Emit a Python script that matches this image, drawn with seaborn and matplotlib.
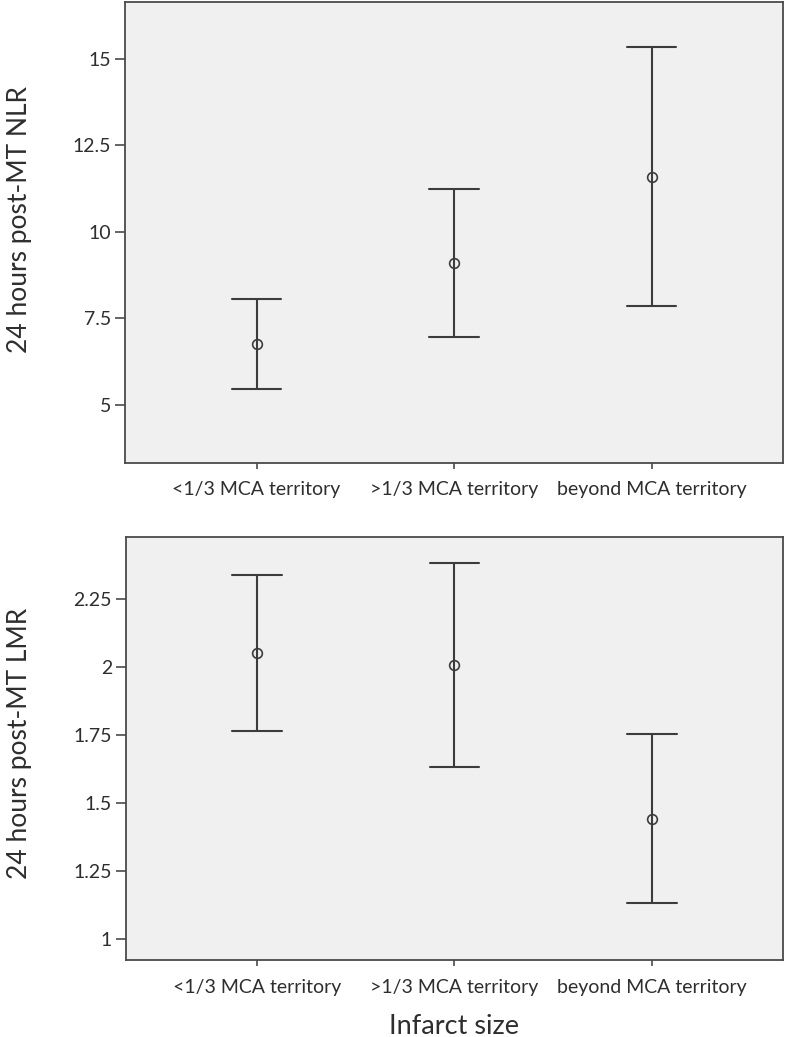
import numpy as np
import pandas as pd
import matplotlib
matplotlib.use("Agg")
import matplotlib.pyplot as plt
import seaborn as sns
from matplotlib.ticker import FormatStrFormatter

categories = ["<1/3 MCA territory", ">1/3 MCA territory", "beyond MCA territory"]

# mean and 95% CI
nlr_mean = [6.75, 9.09, 11.60]
nlr_low = [5.45, 6.95, 7.84]
nlr_high = [8.05, 11.23, 15.34]

lmr_mean = [2.052, 2.008, 1.443]
lmr_low = [1.764, 1.632, 1.133]
lmr_high = [2.338, 2.382, 1.755]

nlr_ticks = [5, 7.5, 10, 12.5, 15]
lmr_ticks = [1, 1.25, 1.5, 1.75, 2, 2.25]


def make_df(low, mean, high):
    # three rows per group: median gives the mean, full range gives the CI
    rows = []
    for c, lo, m, hi in zip(categories, low, mean, high):
        for v in (lo, m, hi):
            rows.append({"group": c, "value": v})
    return pd.DataFrame(rows)


sns.set_theme(style="white")
plt.rcParams["font.family"] = ["Lato", "DejaVu Sans"]

fig = plt.figure(figsize=(7.87, 10.37), dpi=100)
ax1 = fig.add_axes([0.159, 0.5535, 0.836, 0.4445])
ax2 = fig.add_axes([0.160, 0.0738, 0.835, 0.4084])

line_col = "#3c3c3c"
frame_col = "#4a4a4a"
text_col = "#2e2e2e"

panels = [
    (ax1, make_df(nlr_low, nlr_mean, nlr_high), "24 hours post-MT NLR", nlr_ticks, (3.31, 16.65), -0.142, 0.529),
    (ax2, make_df(lmr_low, lmr_mean, lmr_high), "24 hours post-MT LMR", lmr_ticks, (0.922, 2.479), -0.1436, 0.512),
]

for ax, df, ylab, ticks, ylim, lx, ly in panels:
    sns.pointplot(data=df, x="group", y="value", order=categories, ax=ax,
                  estimator="median", errorbar=("pi", 100), linestyle="none",
                  marker="o", markersize=7, markerfacecolor="none",
                  markeredgecolor=line_col, markeredgewidth=1.2,
                  color=line_col, capsize=0.25,
                  err_kws={"linewidth": 1.5, "color": line_col})
    ax.set_facecolor("#f0f0f0")
    ax.set_xlim(-0.665, 2.665)
    ax.set_ylim(*ylim)
    ax.set_yticks(ticks)
    ax.yaxis.set_major_formatter(FormatStrFormatter("%g"))
    ax.set_ylabel(ylab, fontsize=19, color=text_col)
    ax.yaxis.set_label_coords(lx, ly)
    ax.set_xlabel("")
    for s in ax.spines.values():
        s.set_color(frame_col)
        s.set_linewidth(1.3)
    ax.tick_params(axis="both", which="major", width=1.2, color=frame_col,
                   labelsize=14, labelcolor=text_col, direction="out",
                   left=True, bottom=True)
    ax.tick_params(axis="y", length=7, pad=3)
    ax.tick_params(axis="x", length=4.5, pad=8.5)

ax2.set_xlabel("Infarct size", fontsize=19.5, color=text_col, labelpad=13)

fig.savefig("out.png", dpi=100)
